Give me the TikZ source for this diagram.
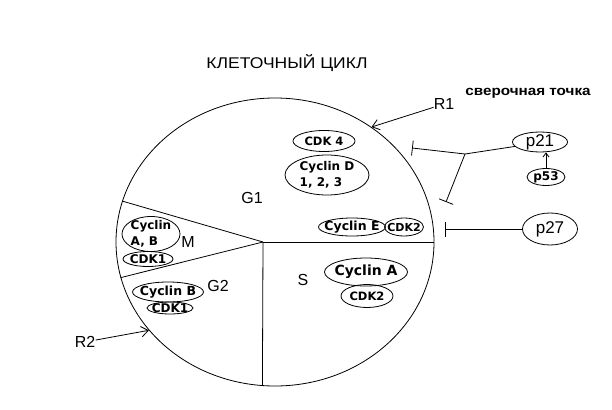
\documentclass[tikz,border=0pt]{standalone}
\usepackage{fontspec}
\setmainfont{Liberation Sans}
\newfontfamily\bubfont{DejaVu Sans}
\newfontfamily\widefont{Liberation Sans}[FakeStretch=1.13]
\usetikzlibrary{shapes,arrows.meta,positioning}

\begin{document}
\begin{tikzpicture}[x=1pt,y=-1pt,line width=0.8pt,
  bub/.style={draw,ellipse,inner sep=0pt},
  btxt/.style={font=\bubfont\bfseries\fontsize{#1}{16}\selectfont,align=left,inner sep=0pt},
  ptxt/.style={font=\fontsize{#1}{#1}\selectfont,inner sep=0pt},
  phase/.style={font=\fontsize{16}{16}\selectfont,inner sep=0pt},
  pointer/.style={-{Straight Barb[length=#1,width=1.5*#1]}},
  pointer/.default=7pt,
  inhib/.style={-{Bar[width=15pt]}}]
\useasboundingbox (0,0) rectangle (612,409);

\node[font=\widefont\fontsize{15.5}{15.5}\selectfont] (title) at (287,63) {КЛЕТОЧНЫЙ ЦИКЛ};
\node[font=\widefont\bfseries\fontsize{13.5}{13.5}\selectfont] (check) at (528,93) {сверочная точка};

\node[draw,ellipse,inner sep=0pt,minimum width=318pt,minimum height=288pt] (cell) at (275,242) {};
\coordinate (hub) at (263,242);
\draw (hub) -- (cell.east);
\draw (hub) -- (cell.-95);
\draw (hub) -- (cell.165);
\draw (hub) -- (cell.193);

\node[phase] (g1) at (252,198) {G1};
\node[phase] (m) at (188,242) {M};
\node[phase] (s) at (303,280) {S};
\node[phase] (g2) at (218,286) {G2};
\node[phase] (r1) at (444,104) {R1};
\node[phase] (r2) at (85,342) {R2};

\node[bub,minimum width=62pt,minimum height=21pt,label={[btxt=11.5]center:CDK 4}] (cdk4) at (324,141) {};
\node[bub,minimum width=84pt,minimum height=40pt,label={[btxt=12]center:Cyclin D\\1, 2, 3}] (cycd) at (327,175) {};
\node[bub,minimum width=67pt,minimum height=18pt,label={[btxt=12.5]center:Cyclin E}] (cyce) at (352,227) {};
\node[bub,minimum width=39pt,minimum height=18pt,label={[btxt=11]center:CDK2}] (cdk2e) at (404,227) {};
\node[bub,minimum width=83pt,minimum height=28pt,label={[btxt=14]center:Cyclin A}] (cyca) at (366,272) {};
\node[bub,minimum width=52pt,minimum height=23pt,label={[btxt=11.5]center:CDK2}] (cdk2a) at (367,296) {};
\node[bub,minimum width=58pt,minimum height=35pt,label={[btxt=12]center:Cyclin\\A, B}] (cycab) at (151,234) {};
\node[bub,minimum width=50pt,minimum height=15pt,label={[btxt=12]center:CDK1}] (cdk1m) at (148,259) {};
\node[bub,minimum width=71pt,minimum height=20pt,label={[btxt=12.5]center:Cyclin B}] (cycb) at (168,292) {};
\node[bub,minimum width=46pt,minimum height=12pt,label={[btxt=12]center:CDK1}] (cdk1g) at (170,308) {};

\node[bub,minimum width=55pt,minimum height=20pt,label={[ptxt=17]center:p21}] (p21) at (540,142) {};
\node[bub,minimum width=38pt,minimum height=17pt,label={[btxt=12]center:p53}] (p53) at (546,177) {};
\node[bub,minimum width=55pt,minimum height=32pt,label={[ptxt=17]center:p27}] (p27) at (550,229) {};

\coordinate (fork) at (465,154);
\coordinate (cut1) at (412,148);
\coordinate (cut2) at (446,202);
\coordinate (cut3) at (445,229);
\draw (p21.190) -- (fork);
\draw[inhib] (fork) -- (cut1);
\draw[inhib] (fork) -- (cut2);
\draw[inhib] (p27) -- (cut3);
\draw[pointer=4pt] (p53.north) -- (p53.north |- p21.south);
\draw[pointer] (r1) -- (cell.50);
\draw[pointer] (r2) -- (cell.215);
\end{tikzpicture}
\end{document}
